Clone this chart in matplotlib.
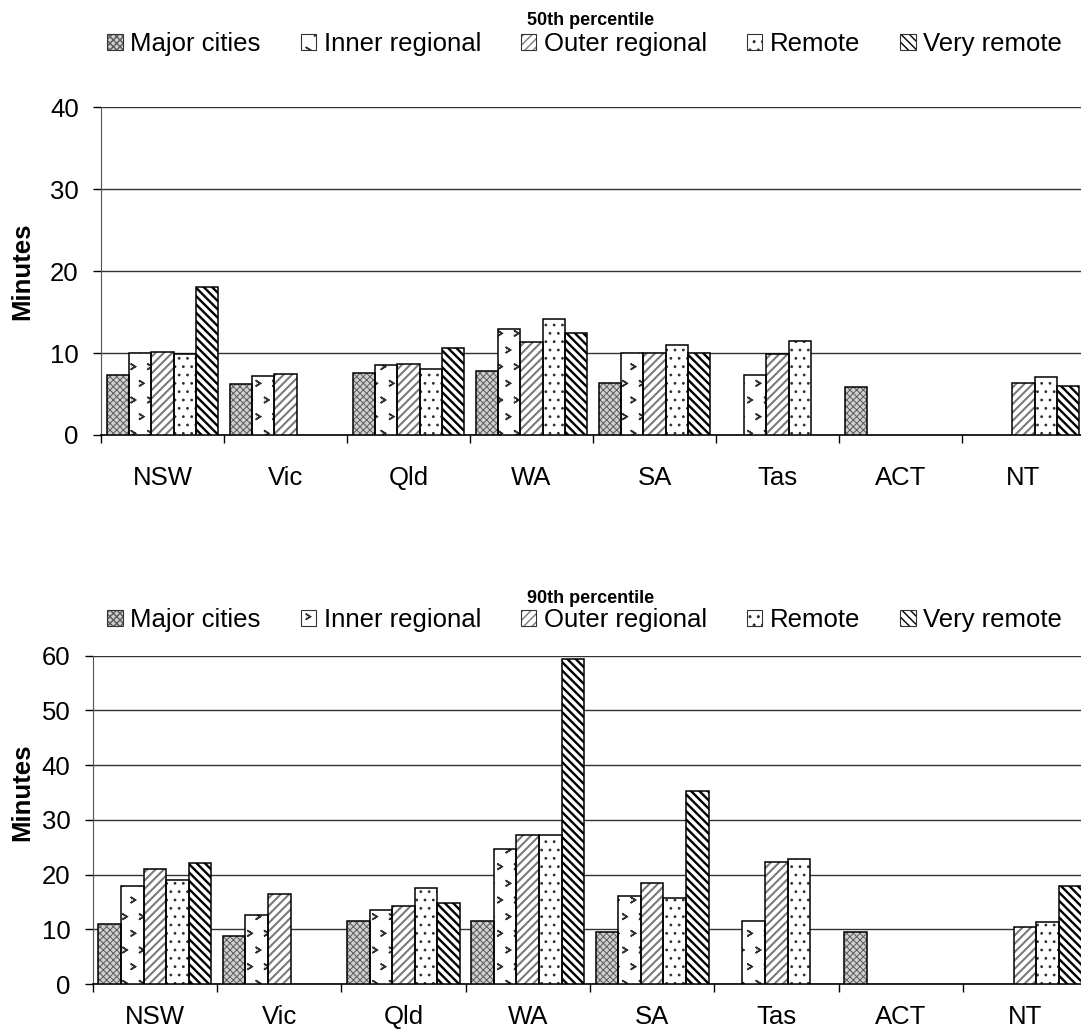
import numpy as np
import matplotlib
matplotlib.use('Agg')
from matplotlib import pyplot as plt
from matplotlib import hatch as mhatch
from matplotlib.path import Path
from matplotlib.patches import Patch
from matplotlib.legend_handler import HandlerTuple
import warnings

warnings.filterwarnings('ignore')
plt.rc('font', family=['Liberation Sans', 'DejaVu Sans'], size=18.5)


# small chevron marks for the "Inner regional" fill
class Chevrons(mhatch.Shapes):
    filled = False
    size = 0.32

    def __init__(self, hatch, density):
        self.num_rows = hatch.count('>') * density
        self.shape_vertices = np.array([[-0.4, 0.5], [0.4, 0.0], [-0.4, -0.5]])
        self.shape_codes = np.array([Path.MOVETO, Path.LINETO, Path.LINETO])
        super().__init__(hatch, density)


inner_hatch = 'o'
try:
    mhatch._hatch_types.append(Chevrons)
    inner_hatch = '>'
except Exception:
    pass

states = ['NSW', 'Vic', 'Qld', 'WA', 'SA', 'Tas', 'ACT', 'NT']
regions = ['Major cities', 'Inner regional', 'Outer regional', 'Remote', 'Very remote']
nan = np.nan

# 50th percentile, minutes
p50_major = [7.3, 6.2, 7.6, 7.8, 6.3, nan, 5.8, nan]
p50_inner = [10.0, 7.2, 8.5, 12.9, 10.0, 7.3, nan, nan]
p50_outer = [10.1, 7.5, 8.6, 11.3, 10.0, 9.9, nan, 6.3]
p50_remote = [9.9, nan, 8.0, 14.2, 11.0, 11.5, nan, 7.1]
p50_vremote = [18.0, nan, 10.6, 12.4, 10.0, nan, nan, 6.0]

# 90th percentile, minutes
p90_major = [11.0, 8.8, 11.6, 11.6, 9.5, nan, 9.6, nan]
p90_inner = [18.0, 12.6, 13.6, 24.7, 16.0, 11.5, nan, nan]
p90_outer = [21.0, 16.4, 14.2, 27.2, 18.4, 22.3, nan, 10.5]
p90_remote = [19.0, nan, 17.5, 27.2, 15.7, 22.9, nan, 11.3]
p90_vremote = [22.1, nan, 14.9, 59.4, 35.2, nan, nan, 18.0]

# face, hatch, hatch colour, hatch width
styles = [('#d0d0d0', 'xxxxx', '#5a5a5a', 0.7),
          ('white', inner_hatch, '#303030', 1.1),
          ('white', '////', '#7a7a7a', 1.5),
          ('white', '..', '#303030', 0.8),
          ('white', '\\\\\\\\', 'black', 1.7)]

bw = 0.182


def draw(ax, series, ymax, title, legend_y, legend_x, title_y, label_y, xpad):
    x = np.arange(len(states))
    for k, vals in enumerate(series):
        fc, h, hc, hw = styles[k]
        xs = x + (k - 2) * bw
        bars = ax.bar(xs, vals, bw, color=fc, hatch=h, edgecolor=hc, linewidth=0, zorder=3)
        for b in bars:
            if hasattr(b, 'set_hatch_linewidth'):
                b.set_hatch_linewidth(hw)
        ax.bar(xs, vals, bw, fill=False, edgecolor='black', linewidth=1.1, zorder=4)

    ax.set_xlim(-0.5, 7.5)
    ax.set_ylim(0, ymax)
    ax.set_yticks(np.arange(0, ymax + 1, 10))
    ax.set_xticks(x)
    ax.set_xticklabels(states)
    ax.set_xticks(np.arange(-0.5, 8, 1), minor=True)
    ax.tick_params(axis='x', which='major', length=0, pad=xpad)
    ax.tick_params(axis='x', which='minor', length=6, width=1, direction='out')
    ax.tick_params(axis='y', length=6, width=1, pad=10)
    ax.grid(axis='y', color='#333333', linewidth=1, zorder=0)
    ax.set_axisbelow(True)
    for s in ['top', 'right']:
        ax.spines[s].set_visible(False)
    ax.spines['left'].set_color('#555555')
    ax.spines['bottom'].set_linewidth(1.2)

    fig = ax.figure
    fig.text(0.546, title_y, title, ha='center', va='center', fontsize=13, fontweight='bold')
    fig.text(0.0204, label_y, 'Minutes', ha='center', va='center', rotation=90,
             fontsize=18.5, fontweight='bold')

    handles = []
    for fc, h, hc, hw in styles:
        p1 = Patch(facecolor=fc, hatch=h, edgecolor=hc, linewidth=0)
        if hasattr(p1, 'set_hatch_linewidth'):
            p1.set_hatch_linewidth(hw)
        p2 = Patch(fill=False, edgecolor='#333333', linewidth=0.8)
        handles.append((p1, p2))
    fig.legend(handles, regions, loc='center', bbox_to_anchor=(legend_x, legend_y), ncol=5,
               frameon=False, handlelength=0.6, handleheight=0.6, handletextpad=0.3,
               columnspacing=1.55, borderaxespad=0, borderpad=0,
               handler_map={tuple: HandlerTuple(ndivide=1, pad=0)})


fig = plt.figure(figsize=(10.81, 10.33), dpi=100)
ax1 = fig.add_axes([0.0934, 0.5789, 0.9103, 0.3175])
ax2 = fig.add_axes([0.0858, 0.0474, 0.9199, 0.3178])

draw(ax1, [p50_major, p50_inner, p50_outer, p50_remote, p50_vremote], 40,
     '50th percentile', 0.9575, 0.541, 0.9797, 0.7377, 22)
draw(ax2, [p90_major, p90_inner, p90_outer, p90_remote, p90_vremote], 60,
     '90th percentile', 0.3998, 0.541, 0.4211, 0.2333, 15)

plt.savefig('out.png', dpi=100, facecolor='white')
plt.close()
